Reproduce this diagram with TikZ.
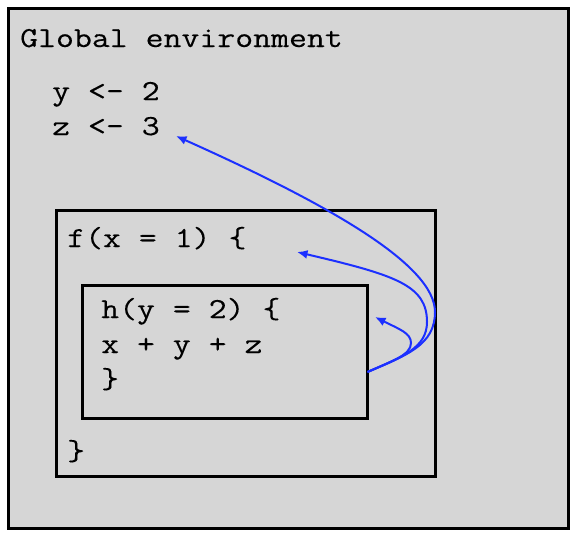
\documentclass[tikz,border=0pt]{standalone}
\usepackage{fontspec}
\setmonofont{Latin Modern Mono}[FakeStretch=1.2,FakeBold=0.3]
\usetikzlibrary{arrows.meta}
\definecolor{envgrey}{RGB}{214,214,214}
\definecolor{arrowblue}{RGB}{28,48,255}
\tikzset{
  envbox/.style={draw=black, line width=2.8pt, fill=envgrey, inner sep=0pt, rectangle},
  code/.style={anchor=base west, inner sep=0pt, font=\ttfamily\fontsize{29}{35}\selectfont},
  scopearrow/.style={draw=arrowblue, line width=2pt, -{Latex[length=10.5pt,width=9pt]}}
}
\begin{document}
\begin{tikzpicture}[x=1pt,y=-1pt]
\useasboundingbox (0,0) rectangle (577,539);
\node[envbox, minimum width=560pt, minimum height=520pt] (outer) at (288.5,268.5) {};
\node[envbox, minimum width=379pt, minimum height=266pt] (fbox) at (246,343.5) {};
\node[envbox, minimum width=285pt, minimum height=133pt] (hbox) at (225,352) {};
\node[code] (glob) at (20,47) {Global environment};
\node[code] (yline) at (52,100) {y <- 2};
\node[code] (zline) at (52,135) {z <- 3};
\node[code] (fline) at (67,247) {f(x = 1) \{};
\node[code] (fend) at (67,460) {\}};
\node[code] (hline) at (101,318) {h(y = 2) \{};
\node[code] (xline) at (101,353) {x + y + z};
\node[code] (hend) at (101,388) {\}};
\coordinate (s) at (367.5,372);
\coordinate (tz) at (176,136);
\coordinate (tf) at (297,252);
\coordinate (th) at (375,317);
\draw[scopearrow] (s) .. controls (407,355) and (435,345) .. (435,312)
  .. controls (435,265) and (330,205) .. (tz);
\draw[scopearrow] (s) .. controls (402,357) and (427,348) .. (427,322)
  .. controls (427,285) and (395,275) .. (tf);
\draw[scopearrow] (s) .. controls (392,361) and (411,355) .. (411,343)
  .. controls (411,333) and (399,329) .. (th);
\end{tikzpicture}
\end{document}
